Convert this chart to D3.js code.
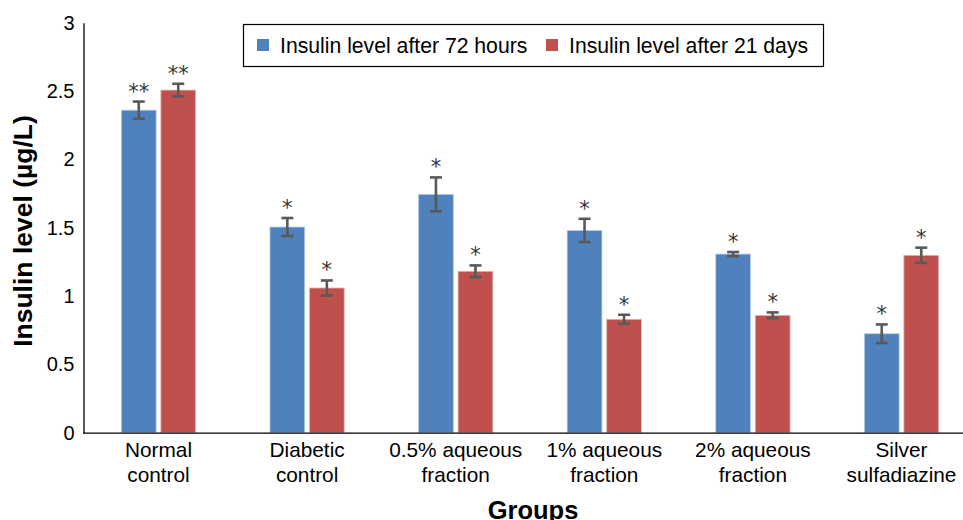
<!DOCTYPE html>
<html><head><meta charset="utf-8">
<script src="https://cdn.jsdelivr.net/npm/d3@7"></script>
<style>body{margin:0;background:#fff}svg{display:block;font-family:"Liberation Sans",Arial,sans-serif}</style>
</head><body><svg id="c" width="963" height="520"></svg>
<script>
const categories = [["Normal","control"],["Diabetic","control"],["0.5% aqueous","fraction"],["1% aqueous","fraction"],["2% aqueous","fraction"],["Silver","sulfadiazine"]];
const seriesNames = ["Insulin level after 72 hours","Insulin level after 21 days"];
const hours72 = [2.36, 1.505, 1.744, 1.48, 1.307, 0.724];
const days21 = [2.507, 1.059, 1.181, 0.83, 0.859, 1.298];
const err72 = [0.063, 0.066, 0.124, 0.085, 0.015, 0.068];
const err21 = [0.046, 0.055, 0.043, 0.033, 0.021, 0.056];
const sig72 = ["**","*","*","*","*","*"];
const sig21 = ["**","*","*","*","*","*"];
const yTicks = [0,0.5,1,1.5,2,2.5,3];
const colors = ["#4F81BD","#C0504D"];

const svg = d3.select("#c");
const y = d3.scaleLinear().domain([0,3]).range([432.7,22.7]);
const x0 = d3.scaleBand().domain(d3.range(categories.length)).range([84.2,975.8]).paddingInner(0.5).paddingOuter(0.25);
const x1 = d3.scaleBand().domain([0,1]).range([0,x0.bandwidth()]).paddingInner(0.12);

// y axis
const yAxis = d3.axisLeft(y).tickValues(yTicks).tickSize(0).tickPadding(9).tickFormat(d3.format("~g"));
const ga = svg.append("g").attr("transform","translate(83.5,0)").call(yAxis);
ga.select(".domain").attr("stroke","#000").attr("stroke-width",1.3);
ga.selectAll("text").attr("font-size",20).attr("fill","#000").attr("font-family","Liberation Sans, Arial, sans-serif");

const series = [hours72, days21];
const errs = [err72, err21];
const sigs = [sig72, sig21];
series.forEach((vals, s) => {
  const g = svg.append("g");
  vals.forEach((v,i) => {
    const bx = x0(i) + x1(s);
    const bw = x1.bandwidth();
    g.append("rect").attr("x",bx).attr("y",y(v)).attr("width",bw).attr("height",y(0)-y(v))
      .attr("fill",colors[s]).attr("stroke", s===0?"#b9cde5":"#e6b9b8").attr("stroke-width",0.8);
    const cx = bx + bw/2;
    const e = errs[s][i];
    const eg = svg.append("g").attr("stroke","#595959").attr("stroke-width",2.6);
    eg.append("line").attr("x1",cx).attr("x2",cx).attr("y1",y(v+e)).attr("y2",y(v-e));
    eg.append("line").attr("x1",cx-6).attr("x2",cx+6).attr("y1",y(v+e)).attr("y2",y(v+e));
    eg.append("line").attr("x1",cx-6).attr("x2",cx+6).attr("y1",y(v-e)).attr("y2",y(v-e));
    svg.append("text").attr("x",cx).attr("y",y(v+e)-3).attr("text-anchor","middle")
      .attr("font-size",21).attr("fill","#333").attr("font-family","DejaVu Sans, sans-serif").text(sigs[s][i]);
  });
});

// x axis line
svg.append("line").attr("x1",83).attr("x2",963).attr("y1",y(0)+0.5).attr("y2",y(0)+0.5).attr("stroke","#000").attr("stroke-width",1.3);

// x labels
categories.forEach((lines,i) => {
  const cx = x0(i) + x0.bandwidth()/2;
  lines.forEach((t,k) => {
    svg.append("text").attr("x",cx).attr("y",457+k*25).attr("text-anchor","middle")
      .attr("font-size",20.8).attr("fill","#000").text(t);
  });
});

// axis titles
svg.append("text").attr("x",533).attr("y",519).attr("text-anchor","middle").attr("font-size",25.5).attr("font-weight","bold").text("Groups");
svg.append("text").attr("transform","translate(32,231) rotate(-90)").attr("text-anchor","middle").attr("font-size",26.5).attr("font-weight","bold").text("Insulin level (µg/L)");

// legend
const lg = svg.append("g");
lg.append("rect").attr("x",243.5).attr("y",24.5).attr("width",580).attr("height",42).attr("fill","#fff").attr("stroke","#000").attr("stroke-width",1.2);
const lx = [257, 546];
seriesNames.forEach((n,s) => {
  lg.append("rect").attr("x",lx[s]).attr("y",39).attr("width",12).attr("height",12).attr("fill",colors[s]);
  lg.append("text").attr("x",lx[s]+23).attr("y",52.5).attr("font-size",21.2).attr("fill","#000").text(n);
});
</script></body></html>
